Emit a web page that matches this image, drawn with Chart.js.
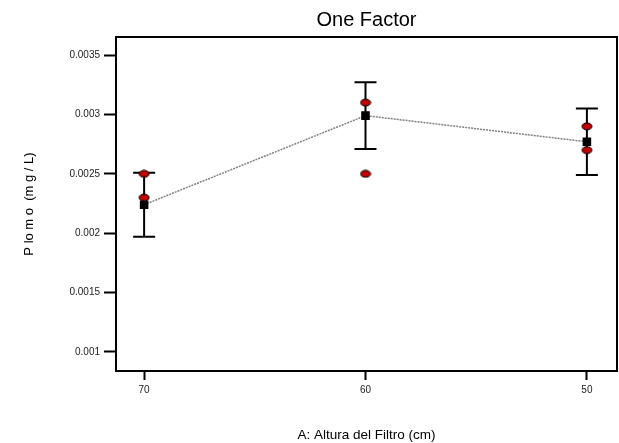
<!DOCTYPE html>
<html>
<head>
<meta charset="utf-8">
<script src="https://cdn.jsdelivr.net/npm/chart.js@4.4.1/dist/chart.umd.min.js"></script>
<style>
  html, body { margin: 0; padding: 0; background: #fff; }
  #wrap { width: 619px; height: 443px; }
</style>
</head>
<body>
<div id="wrap"><canvas id="chart"></canvas></div>
<script>
// Factor levels (A: Altura del Filtro, cm)
const levels = [70, 60, 50];
// Predicted means and their error bar limits
const means = [0.00224, 0.00299, 0.00277];
const lowerLimits = [0.00197, 0.00271, 0.00249];
const upperLimits = [0.00251, 0.00327, 0.00305];
// Observed runs
const obsX = [70, 70, 60, 60, 50, 50];
const obsY = [0.0025, 0.0023, 0.0031, 0.0025, 0.0029, 0.0027];
// Axis ticks
const yTicks = [0.001, 0.0015, 0.002, 0.0025, 0.003, 0.0035];
const xTicks = [70, 60, 50];

const FONT = "'Liberation Sans', Arial, sans-serif";

// red ellipse marker for the observations
const dot = document.createElement('canvas');
dot.width = 12; dot.height = 9;
{
  const c = dot.getContext('2d');
  c.beginPath();
  c.ellipse(6, 4.5, 5, 3.5, 0, 0, Math.PI * 2);
  c.fillStyle = '#c00000';
  c.fill();
  c.lineWidth = 1;
  c.strokeStyle = '#000';
  c.stroke();
}

const errorBars = {
  id: 'errorBars',
  beforeDatasetsDraw(chart) {
    const { ctx, scales: { x, y } } = chart;
    ctx.save();
    ctx.strokeStyle = '#000';
    ctx.lineWidth = 2;
    levels.forEach((lv, i) => {
      const px = x.getPixelForValue(lv);
      const top = y.getPixelForValue(upperLimits[i]);
      const bot = y.getPixelForValue(lowerLimits[i]);
      ctx.beginPath();
      ctx.moveTo(px, top); ctx.lineTo(px, bot);
      ctx.moveTo(px - 11, top); ctx.lineTo(px + 11, top);
      ctx.moveTo(px - 11, bot); ctx.lineTo(px + 11, bot);
      ctx.stroke();
    });
    ctx.restore();
  },
  afterDraw(chart) {
    const { ctx, chartArea: a } = chart;
    ctx.save();
    ctx.strokeStyle = '#000';
    ctx.lineWidth = 2;
    ctx.strokeRect(a.left, a.top, a.right - a.left, a.bottom - a.top);
    ctx.restore();
  }
};

new Chart(document.getElementById('chart'), {
  type: 'scatter',
  data: {
    datasets: [
      {
        label: 'Mean',
        data: levels.map((lv, i) => ({ x: lv, y: means[i] })),
        showLine: true,
        borderColor: '#808080',
        borderWidth: 1.5,
        borderDash: [2, 1],
        pointStyle: 'rect',
        pointRadius: 5,
        pointBackgroundColor: '#000',
        pointBorderColor: '#000',
        order: 2
      },
      {
        label: 'Observed',
        data: obsX.map((v, i) => ({ x: v, y: obsY[i] })),
        pointStyle: dot,
        order: 1
      }
    ]
  },
  options: {
    responsive: true,
    maintainAspectRatio: false,
    animation: false,
    layout: { autoPadding: false, padding: { left: 0, right: 2, top: 0, bottom: 0 } },
    plugins: {
      legend: { display: false },
      tooltip: { enabled: false },
      title: {
        display: true,
        text: 'One Factor',
        fullSize: false,
        color: '#000',
        font: { family: FONT, size: 20, weight: 'normal' },
        padding: { top: 8, bottom: 5 }
      }
    },
    scales: {
      x: {
        type: 'linear',
        reverse: true,
        min: 48.64,
        max: 71.27,
        afterBuildTicks: (s) => { s.ticks = xTicks.map(v => ({ value: v })); },
        afterFit: (s) => { s.height = 72; s.paddingLeft = 0; s.paddingRight = 0; },
        border: { display: true, color: '#000', width: 2 },
        grid: { drawOnChartArea: false, drawTicks: true, tickLength: 9, tickWidth: 2, tickColor: '#000' },
        ticks: { color: '#222', font: { family: FONT, size: 10 }, padding: 4, callback: (v) => String(v) },
        title: {
          display: true,
          text: 'A: Altura del Filtro (cm)',
          color: '#000',
          font: { family: FONT, size: 13.5 },
          padding: { top: 0, bottom: 0 }
        }
      },
      y: {
        type: 'linear',
        min: 0.00084,
        max: 0.003652,
        afterBuildTicks: (s) => { s.ticks = yTicks.map(v => ({ value: v })); },
        afterFit: (s) => { s.width = 116; s.paddingTop = 0; s.paddingBottom = 0; },
        border: { display: true, color: '#000', width: 2 },
        grid: { drawOnChartArea: false, drawTicks: true, tickLength: 12, tickWidth: 2, tickColor: '#000' },
        ticks: { color: '#222', font: { family: FONT, size: 10 }, padding: 4, callback: (v) => String(v) },
        title: {
          display: true,
          text: 'P lo m o  (m g / L)',
          color: '#000',
          font: { family: FONT, size: 13 },
          padding: { top: 22, bottom: 0 }
        }
      }
    }
  },
  plugins: [errorBars]
});
</script>
</body>
</html>
